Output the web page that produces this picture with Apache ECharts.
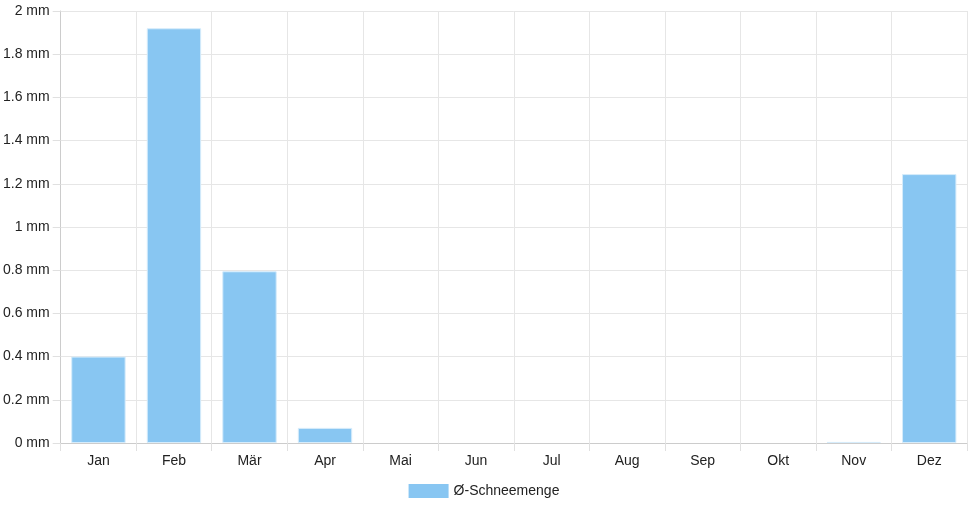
<!DOCTYPE html>
<html>
<head>
<meta charset="utf-8">
<script src="https://cdn.jsdelivr.net/npm/echarts@6/dist/echarts.min.js"></script>
<style>html,body{margin:0;padding:0;background:#fff}#c{width:968px;height:508px}</style>
</head>
<body>
<div id="c"></div>
<script>
var categories = ['Jan','Feb','Mär','Apr','Mai','Jun','Jul','Aug','Sep','Okt','Nov','Dez'];
var snowValues = [0.4, 1.92, 0.795, 0.07, 0, 0, 0, 0, 0, 0, 0.005, 1.245];
var seriesName = 'Ø-Schneemenge';

var chart = echarts.init(document.getElementById('c'), null, {renderer: 'canvas'});
var font = 'Liberation Sans, Arial, sans-serif';
var barData = snowValues.map(function (v) {
  return v === 0 ? {value: v, itemStyle: {borderWidth: 0}} : v;
});
chart.setOption({
  animation: false,
  grid: {left: 60, right: 1, top: 11, bottom: 65, containLabel: false},
  legend: {
    bottom: 5, left: 'center',
    itemWidth: 40, itemHeight: 14, itemGap: 6,
    icon: 'rect',
    itemStyle: {borderWidth: 0},
    textStyle: {fontFamily: font, fontSize: 14, color: '#222'},
    data: [seriesName]
  },
  xAxis: {
    type: 'category',
    data: categories,
    boundaryGap: true,
    axisLine: {show: true, lineStyle: {color: '#ccc', width: 1}},
    axisTick: {show: true, length: 8, alignWithLabel: false, lineStyle: {color: '#e0e0e0'}},
    axisLabel: {fontFamily: font, fontSize: 14, color: '#222', margin: 11},
    splitLine: {show: true, lineStyle: {color: '#e6e6e6'}}
  },
  yAxis: {
    type: 'value',
    min: 0, max: 2, interval: 0.2,
    axisLine: {show: true, lineStyle: {color: '#ccc'}},
    axisTick: {show: true, length: 8, lineStyle: {color: '#e0e0e0'}},
    axisLabel: {
      fontFamily: font, fontSize: 14, color: '#222', margin: 11,
      formatter: function (v) { return (Math.round(v * 10) / 10) + ' mm'; }
    },
    splitLine: {show: true, lineStyle: {color: '#e6e6e6'}}
  },
  series: [{
    name: seriesName,
    type: 'bar',
    data: barData,
    barWidth: '72%',
    itemStyle: {color: '#88c6f2', borderColor: '#d6ecfb', borderWidth: 1}
  }]
});
</script>
</body>
</html>
